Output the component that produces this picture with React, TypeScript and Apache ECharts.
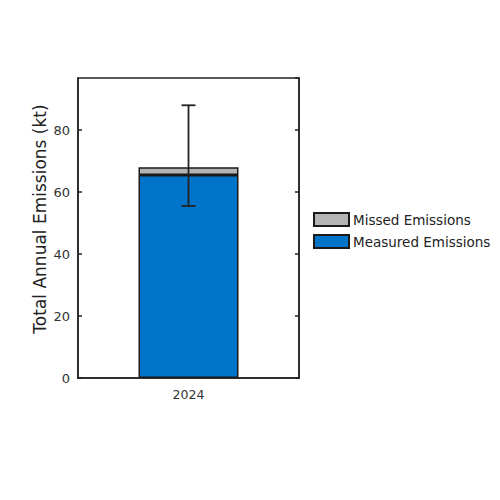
import { useEffect, useRef } from 'react'
import * as echarts from 'echarts'

const YEARS = ['2024']
const MEASURED = [65.5]
const MISSED = [2.5]
const ERROR_LOW = [55.5]
const ERROR_HIGH = [88]
const Y_MAX = 96.8
const Y_TICKS = 20

const FONT = 'DejaVu Sans'
const INK = '#222222'

export default function App() {
  const elRef = useRef<HTMLDivElement>(null)

  useEffect(() => {
    if (!elRef.current) return
    const chart = echarts.init(elRef.current, null, { renderer: 'svg' })

    const errData = YEARS.map((_, i) => [i, ERROR_LOW[i], ERROR_HIGH[i]])

    chart.setOption({
      animation: false,
      backgroundColor: '#ffffff',
      textStyle: { fontFamily: FONT },
      grid: { left: 78, right: 201, top: 78, bottom: 122, show: true, borderColor: INK, borderWidth: 1.5 },
      legend: {
        orient: 'vertical',
        left: 313,
        top: 212,
        padding: 0,
        icon: 'rect',
        itemWidth: 35,
        itemHeight: 13,
        itemGap: 7,
        data: ['Missed Emissions', 'Measured Emissions'],
        textStyle: { fontFamily: FONT, fontSize: 13.5, lineHeight: 13, color: '#222', padding: [0, 0, 0, -1] },
      },
      xAxis: {
        type: 'category',
        data: YEARS,
        axisLine: { lineStyle: { color: INK, width: 1.5 } },
        axisTick: { show: false },
        axisLabel: { color: '#333', fontSize: 12.5, margin: 10 },
      },
      yAxis: [
        {
          type: 'value',
          min: 0,
          max: Y_MAX,
          interval: Y_TICKS,
          name: 'Total Annual Emissions (kt)',
          nameLocation: 'middle',
          nameGap: 30,
          nameTextStyle: { fontSize: 17, color: '#222', fontFamily: FONT, padding: [0, 0, 0, 18] },
          axisLine: { show: true, lineStyle: { color: INK, width: 1.5 } },
          axisTick: { show: true, inside: true, length: 4, lineStyle: { color: INK, width: 1.5 } },
          axisLabel: { color: '#333', fontSize: 13, margin: 8, showMaxLabel: false },
          splitLine: { show: false },
        },
        {
          type: 'value',
          position: 'right',
          min: 0,
          max: Y_MAX,
          interval: Y_TICKS,
          axisLine: { show: true, lineStyle: { color: INK, width: 1.5 } },
          axisTick: { show: true, inside: true, length: 4, lineStyle: { color: INK, width: 1.5 } },
          axisLabel: { show: false },
          splitLine: { show: false },
        },
      ],
      series: [
        {
          name: 'Measured Emissions',
          type: 'bar',
          stack: 'total',
          barWidth: 100,
          data: MEASURED,
          itemStyle: { color: '#0074c8', borderColor: '#1a1a1a', borderWidth: 1.5 },
        },
        {
          name: 'Missed Emissions',
          type: 'bar',
          stack: 'total',
          barWidth: 100,
          data: MISSED,
          itemStyle: { color: '#b4b4b4', borderColor: '#1a1a1a', borderWidth: 1.5 },
        },
        {
          type: 'custom',
          z: 10,
          data: errData,
          renderItem: (_params: any, api: any) => {
            const x = api.value(0)
            const lo = api.coord([x, api.value(1)])
            const hi = api.coord([x, api.value(2)])
            const cap = 7
            const style = { stroke: INK, lineWidth: 1.8 }
            return {
              type: 'group',
              children: [
                { type: 'line', shape: { x1: lo[0], y1: lo[1], x2: hi[0], y2: hi[1] }, style },
                { type: 'line', shape: { x1: lo[0] - cap, y1: lo[1], x2: lo[0] + cap, y2: lo[1] }, style },
                { type: 'line', shape: { x1: hi[0] - cap, y1: hi[1], x2: hi[0] + cap, y2: hi[1] }, style },
              ],
            }
          },
        },
      ],
    })

    return () => chart.dispose()
  }, [])

  return <div ref={elRef} style={{ width: 500, height: 500, margin: -8 }} />
}
